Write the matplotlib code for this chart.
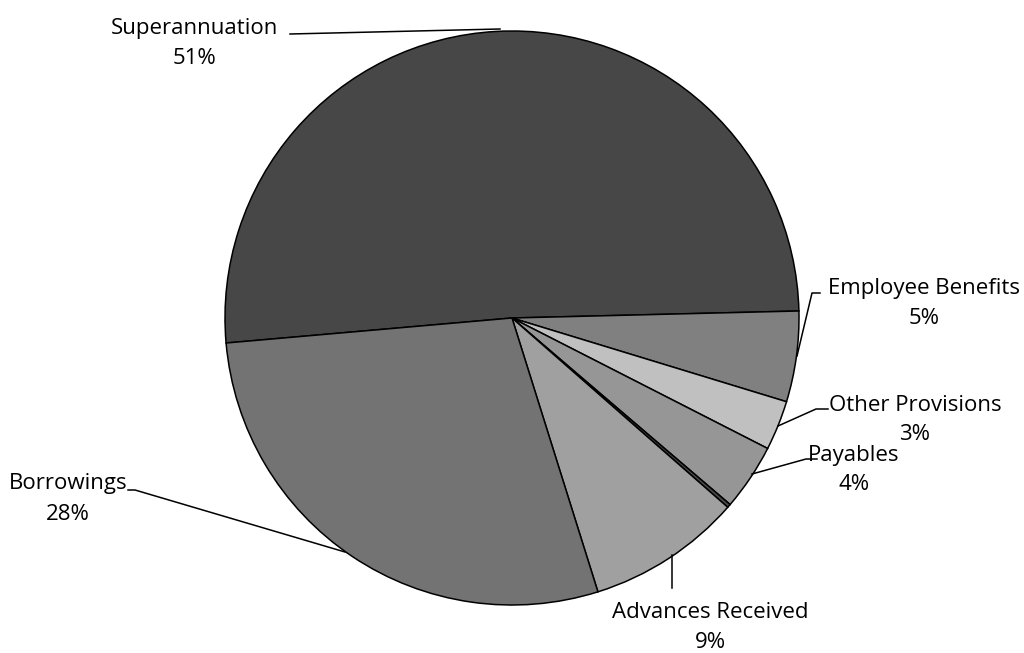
import numpy as np
import matplotlib.pyplot as plt

labels = ['Superannuation', 'Employee Benefits', 'Other Provisions', 'Payables',
          'Other', 'Advances Received', 'Borrowings']
values = [51.0, 5.1, 2.8, 3.75, 0.2, 8.7, 28.45]
colors = ['#474747', '#808080', '#c0c0c0', '#969696', '#4a4a4a', '#a0a0a0', '#737373']

W, H = 1024, 653
CX, CY, R = 512, 318, 287


def px(x, y):
    # image pixel -> data coords (pie radius 1)
    return (x - CX) / R, (CY - y) / R


fig = plt.figure(figsize=(W / 100, H / 100), dpi=100)
ax = fig.add_axes([0, 0, 1, 1])
ax.pie(values, colors=colors, startangle=185, counterclock=False, radius=1,
       wedgeprops=dict(edgecolor='black', linewidth=1.1))
ax.set_xlim(px(0, 0)[0], px(W, 0)[0])
ax.set_ylim(px(0, H)[1], px(0, 0)[1])
ax.set_aspect('equal')
ax.axis('off')

# label text position (name line), leader polyline in pixels
layout = {
    'Superannuation': ((194, 28), [(290, 34), (500, 29)]),
    'Employee Benefits': ((924, 288), [(820, 293), (812, 293), (797, 356)]),
    'Other Provisions': ((915, 405), [(828, 409), (816, 409), (778, 426)]),
    'Payables': ((854, 455), [(817, 459), (806, 459), (752, 474)]),
    'Advances Received': ((710, 612), [(672, 588), (672, 555)]),
    'Borrowings': ((68, 484), [(128, 490), (135, 490), (345, 552)]),
}

font = dict(family=['Open Sans', 'DejaVu Sans'], fontsize=16, color='black')
total = sum(values)
for name, v in zip(labels, values):
    if name not in layout:
        continue
    (tx, ty), line = layout[name]
    x, y = px(tx, ty)
    ax.text(x, y, name, ha='center', va='center', **font)
    x2, y2 = px(tx, ty + 30)
    ax.text(x2, y2, '%d%%' % round(v / total * 100), ha='center', va='center', **font)
    pts = np.array([px(a, b) for a, b in line])
    ax.plot(pts[:, 0], pts[:, 1], color='black', linewidth=1.1)

fig.savefig('out.png', dpi=100)
